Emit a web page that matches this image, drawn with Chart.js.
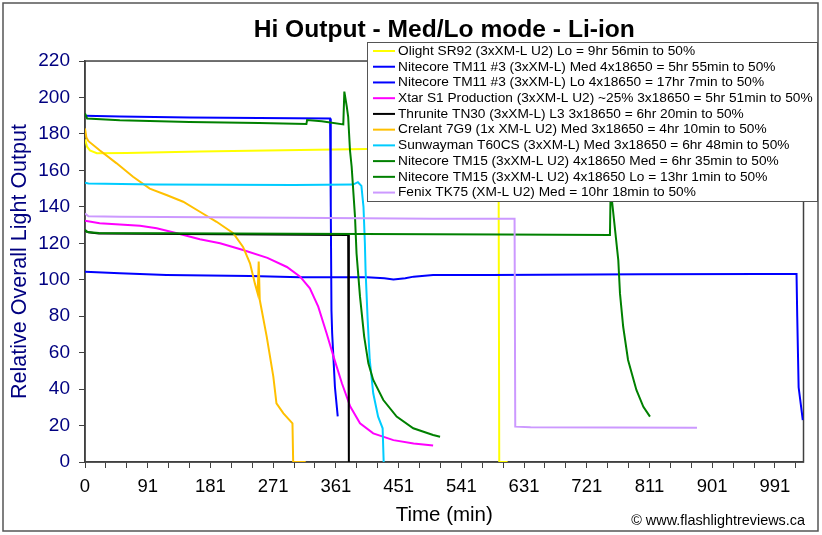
<!DOCTYPE html>
<html>
<head>
<meta charset="utf-8">
<script src="https://cdn.jsdelivr.net/npm/chart.js@4/dist/chart.umd.min.js"></script>
<style>
  html, body { margin: 0; padding: 0; background: #fff; }
  #wrap { width: 822px; height: 535px; }
</style>
</head>
<body>
<div id="wrap"><canvas id="runtime-chart" width="822" height="535"></canvas></div>
<script>
// Runtime curves, [minutes, relative output]
const olight = [[0, 177], [3, 173], [7, 171], [17, 169.4], [60, 169.5], [165, 170.3], [309, 171.2], [405, 171.7], [594, 172], [595, 0], [607, 0]];
const tm11Med = [[0, 190], [50, 189.6], [150, 189], [250, 188.8], [352, 188.5], [353, 140], [354, 83], [355, 70.6], [359, 41], [363, 25]];
const tm11Lo = [[0, 104.4], [50, 103.5], [117, 102.6], [237, 102], [309, 101.3], [405, 101.3], [430, 100.8], [443, 100.2], [460, 100.8], [472, 101.7], [500, 102.6], [582, 102.6], [800, 103], [970, 103.1], [1022, 103.1], [1023, 80], [1025, 41], [1031, 23]];
const xtar = [[0, 132.4], [21, 131], [79, 129.6], [103, 128.2], [132, 125.5], [165, 122.2], [194, 120], [227, 116.3], [262, 112], [290, 107], [309, 101.7], [323, 95.3], [335, 85.2], [347, 70.6], [357, 57.8], [369, 43.2], [381, 30.4], [395, 21.2], [414, 15.7], [443, 12], [472, 10.2], [500, 9]];
const thrunite = [[0, 127], [5, 126], [20, 125.3], [200, 125], [378, 124.5], [379, 0]];
const crelant = [[0, 183], [2, 178], [5, 176], [21, 171], [45, 164], [69, 156.5], [93, 150], [117, 146.5], [141, 142.8], [165, 137.3], [189, 131.8], [213, 125.5], [227, 118], [237, 109], [244, 98], [248, 92.5], [249.5, 110], [251, 89], [261, 68.8], [270.5, 46.8], [275, 32.2], [285, 26.7], [298, 21.2], [299, 0], [317, 0]];
const sunwayman = [[0, 153.2], [5, 152.8], [100, 152.3], [300, 152], [385, 152.2], [392, 153.5], [397, 151.5], [400, 140], [402, 120], [403, 105], [406, 78], [409, 56], [414, 37.7], [421, 24.9], [427.5, 18.5], [429, 0]];
const tm15Med = [[0, 191.3], [3, 188.5], [50, 187.5], [150, 186.5], [250, 186], [318, 185.4], [319, 187.6], [340, 187], [371, 185.2], [372.5, 203.2], [376, 195], [378, 189.4], [380.6, 171], [383, 162], [387.8, 134.6], [390, 114.5], [395, 90.7], [401, 68.8], [407, 54.1], [414, 45], [428.5, 34], [447.6, 24.9], [471.5, 18.5], [500, 14.8], [510, 13.9]];
const tm15Lo = [[0, 127.5], [3, 126.2], [20, 125.6], [300, 125.2], [600, 124.8], [754, 124.5], [755, 150], [757, 143], [766, 110.6], [768.4, 92.5], [773, 74.2], [780, 56], [792, 39.5], [802, 30.3], [811.5, 24.9]];
const fenix = [[0, 136.4], [5, 134.8], [50, 134.5], [300, 134], [500, 133.5], [617, 133.5], [618, 19.4], [640, 19], [879, 18.8]];

const seriesNames = [
  'Olight SR92 (3xXM-L U2) Lo = 9hr 56min to 50%',
  'Nitecore TM11 #3 (3xXM-L) Med 4x18650 = 5hr 55min to 50%',
  'Nitecore TM11 #3 (3xXM-L) Lo 4x18650 = 17hr 7min to 50%',
  'Xtar S1 Production (3xXM-L U2) ~25% 3x18650 = 5hr 51min to 50%',
  'Thrunite TN30 (3xXM-L) L3 3x18650 = 6hr 20min to 50%',
  'Crelant 7G9 (1x XM-L U2) Med 3x18650 = 4hr 10min to 50%',
  'Sunwayman T60CS (3xXM-L) Med 3x18650 = 6hr 48min to 50%',
  'Nitecore TM15 (3xXM-L U2) 4x18650 Med = 6hr 35min to 50%',
  'Nitecore TM15 (3xXM-L U2) 4x18650 Lo = 13hr 1min to 50%',
  'Fenix TK75 (XM-L U2) Med = 10hr 18min to 50%'
];
const seriesData = [olight, tm11Med, tm11Lo, xtar, thrunite, crelant, sunwayman, tm15Med, tm15Lo, fenix];
const seriesColors = ['#FFFF00', '#0000FF', '#0000FF', '#FF00FF', '#000000', '#FFC000', '#00CCFF', '#008000', '#008000', '#CC99FF'];

// x axis: a tick every ~30 min, labelled every third one
const xTickLabels = ['0', '91', '181', '271', '361', '451', '541', '631', '721', '811', '901', '991'];
const xTickStep = 30.03;
const xTickCount = 35;

const FONT = '"Liberation Sans", Arial, sans-serif';
const NAVY = '#000080';

// white legend box drawn over the plot, like the spreadsheet original
const boxLegend = {
  id: 'boxLegend',
  afterDatasetsDraw(chart) {
    const ctx = chart.ctx;
    const x = 367, y = 42, w = 450, h = 159, step = 15.73;
    ctx.save();
    ctx.fillStyle = '#fff';
    ctx.fillRect(x, y, w, h);
    ctx.strokeStyle = '#555';
    ctx.lineWidth = 1;
    ctx.strokeRect(x + 0.5, y + 0.5, w, h);
    ctx.font = '13.7px ' + FONT;
    ctx.textBaseline = 'middle';
    ctx.fillStyle = '#000';
    chart.data.datasets.forEach((ds, i) => {
      const cy = 51 + i * step;
      ctx.strokeStyle = ds.borderColor;
      ctx.lineWidth = 2;
      ctx.beginPath();
      ctx.moveTo(373, cy);
      ctx.lineTo(395, cy);
      ctx.stroke();
      ctx.fillText(ds.label, 398, cy);
    });
    ctx.restore();
  }
};

// plot frame, outer frame and credit line
const frames = {
  id: 'frames',
  beforeDatasetsDraw(chart) {
    const {ctx, chartArea: a} = chart;
    ctx.save();
    ctx.strokeStyle = '#404040';
    ctx.lineWidth = 1.5;
    ctx.strokeRect(a.left, a.top, a.right - a.left, a.bottom - a.top);
    ctx.restore();
  },
  afterDraw(chart) {
    const ctx = chart.ctx;
    ctx.save();
    ctx.strokeStyle = '#555';
    ctx.lineWidth = 1.5;
    ctx.strokeRect(3, 3, 815, 528);
    ctx.font = '14.4px ' + FONT;
    ctx.fillStyle = '#000';
    ctx.textAlign = 'right';
    ctx.textBaseline = 'middle';
    ctx.fillText('\u00A9 www.flashlightreviews.ca', 805, 521);
    ctx.restore();
  }
};

const canvas = document.getElementById('runtime-chart');
new Chart(canvas.getContext('2d'), {
  type: 'line',
  data: {
    datasets: seriesData.map((pts, i) => ({
      label: seriesNames[i],
      data: pts.map(([x, y]) => ({x, y})),
      borderColor: seriesColors[i],
      backgroundColor: seriesColors[i],
      borderWidth: 2,
      pointRadius: 0,
      tension: 0,
      fill: false,
      order: seriesData.length - i
    }))
  },
  options: {
    responsive: false,
    animation: false,
    layout: { padding: { left: 0, right: 18.5, top: 0, bottom: 0 } },
    plugins: {
      legend: { display: false },
      tooltip: { enabled: false },
      title: {
        display: true,
        fullSize: false,
        text: 'Hi Output - Med/Lo mode - Li-ion',
        color: '#000',
        font: { family: FONT, size: 24.6, weight: 'bold' },
        padding: { top: 15.2, bottom: 16.3 }
      }
    },
    scales: {
      x: {
        type: 'linear',
        min: 0,
        max: 1032,
        afterBuildTicks: (scale) => {
          scale.ticks = Array.from({length: xTickCount}, (_, i) => ({value: i * xTickStep}));
        },
        afterFit: (scale) => { scale.height = 73; },
        grid: { drawOnChartArea: false, drawTicks: true, tickLength: 6, color: '#404040' },
        border: { color: '#404040', width: 1.5 },
        ticks: {
          autoSkip: false,
          maxRotation: 0,
          padding: 8,
          color: '#000',
          font: { family: FONT, size: 18.5 },
          callback: (value, index) => index % 3 === 0 ? xTickLabels[index / 3] : ''
        },
        title: {
          display: true,
          text: 'Time (min)',
          color: '#000',
          font: { family: FONT, size: 20.5 },
          padding: { top: 0, bottom: 7.5 }
        }
      },
      y: {
        min: 0,
        max: 220,
        afterFit: (scale) => { scale.width = 85; },
        grid: { drawOnChartArea: false, drawTicks: true, tickLength: 6, color: '#404040' },
        border: { color: '#404040', width: 1.5 },
        ticks: {
          stepSize: 20,
          padding: 9,
          color: NAVY,
          font: { family: FONT, size: 19 }
        },
        title: {
          display: true,
          text: 'Relative Overall Light Output',
          color: NAVY,
          font: { family: FONT, size: 21.5 },
          padding: { top: 7.5, bottom: 0 }
        }
      }
    }
  },
  plugins: [frames, boxLegend]
});
</script>
</body>
</html>
